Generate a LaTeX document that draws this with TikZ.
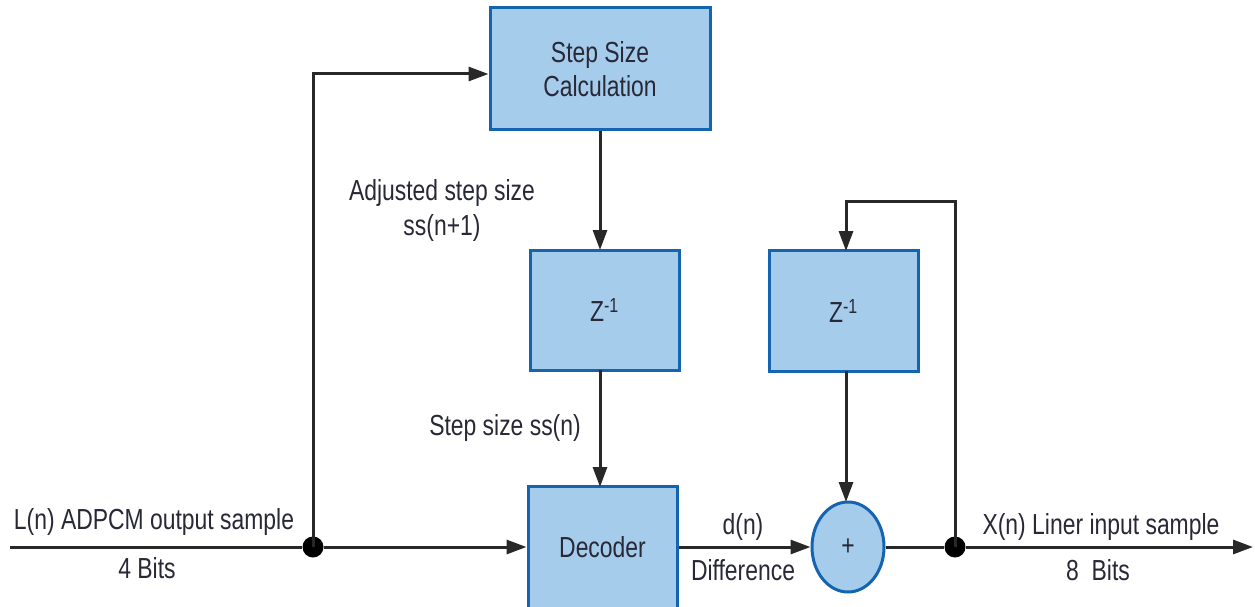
\documentclass[tikz,border=0pt]{standalone}
\usepackage{fontspec}
\setmainfont{Liberation Sans}[FakeStretch=0.79]
\usetikzlibrary{arrows.meta,shapes.geometric}
\definecolor{boxfill}{RGB}{166,204,236}
\definecolor{boxline}{RGB}{20,100,175}
\definecolor{wire}{RGB}{40,40,40}
\definecolor{txt}{RGB}{40,40,55}
\begin{document}
\begin{tikzpicture}[x=1pt,y=-1pt,
  blk/.style={draw=boxline,fill=boxfill,line width=3pt,inner sep=0pt,text=txt,align=center,font=\fontsize{29}{34}\selectfont},
  lbl/.style={text=txt,align=center,inner sep=0pt,font=\fontsize{29}{35}\selectfont},
  wirestyle/.style={draw=wire,line width=3pt},
  arr/.style={wirestyle,-{Triangle[length=20pt,width=14pt]}},
  dotstyle/.style={circle,fill=black,minimum size=21pt,inner sep=0pt}]
\useasboundingbox (0,0) rectangle (1255,607);
% blocks
\node[blk,minimum width=220pt,minimum height=122pt] (ssc) at (600,69) {Step Size\\Calculation};
\node[blk,minimum width=149pt,minimum height=120pt] (z1) at (604.5,310) {Z\textsuperscript{-1}};
\node[blk,minimum width=149pt,minimum height=121pt] (z2) at (843.5,311) {Z\textsuperscript{-1}};
\node[blk,minimum width=149pt,minimum height=122pt] (dec) at (602.5,547) {Decoder};
\node[blk,ellipse,minimum width=72pt,minimum height=90pt] (sum) at (848,547) {+};
% junctions
\node[dotstyle] (j1) at (313,547) {};
\node[dotstyle] (j2) at (955,547) {};
\coordinate (in) at (10,547);
\coordinate (out) at (1253,547);
\coordinate (c1) at (313,74);
\coordinate (c2) at (955,201);
\coordinate (c3) at (846,201);
% connectors
\draw[wirestyle] (in) -- (j1);
\draw[arr] (j1) -- (dec.west);
\draw[arr] (j1.center) -- (c1) -- (ssc.west |- c1);
\draw[arr] (ssc.south -| 600,0) -- (600,250);
\draw[arr] (600,370) -- (600,487);
\draw[arr] (dec.east) -- (sum.west);
\draw[arr] (846,371) -- (846,502);
\draw[wirestyle] (sum.east) -- (j2);
\draw[arr] (j2) -- (out);
\draw[arr] (j2.center) -- (c2) -- (c3) -- (846,251);
% labels
\node[lbl] (l1) at (154,522) {L(n) ADPCM output sample};
\node[lbl] (l2) at (147,568) {4 Bits};
\node[lbl] (l3) at (442,210) {Adjusted step size\\ss(n+1)};
\node[lbl] (l4) at (505,428) {Step size ss(n)};
\node[lbl] (l5) at (743,527) {d(n)};
\node[lbl] (l6) at (743,570) {Difference};
\node[lbl] (l7) at (1101,527) {X(n) Liner input sample};
\node[lbl] (l8) at (1098,570) {8\ \ Bits};
\end{tikzpicture}
\end{document}
